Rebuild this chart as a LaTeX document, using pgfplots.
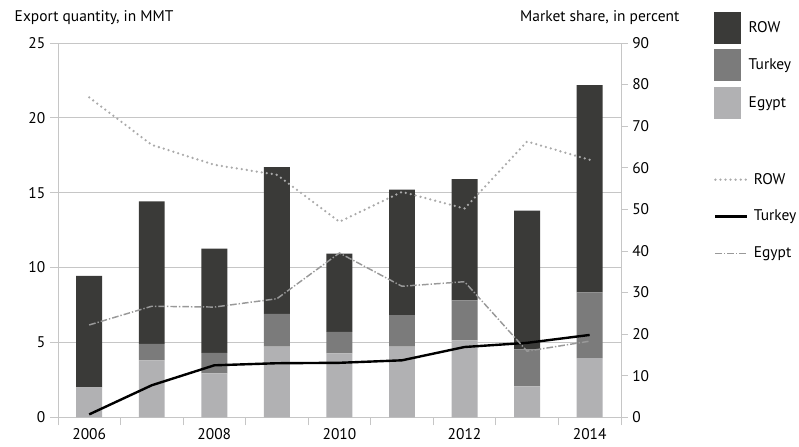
\documentclass[border=0pt]{standalone}
\usepackage{pgfplots}
\pgfplotsset{compat=1.18}
\usepackage{pgfplotstable}
\usepackage{fontspec}
\setmainfont{PT Sans}
\definecolor{rowc}{HTML}{3A3A38}
\definecolor{turc}{HTML}{7B7B7B}
\definecolor{egyc}{HTML}{B1B1B3}
\definecolor{axc}{HTML}{C6C6C6}
\definecolor{rowl}{HTML}{AAAAAA}
\definecolor{egyl}{HTML}{999999}

\pgfplotstableread{
x egypt turkey row
0 2.00 0.00 7.45
1 3.80 1.10 9.52
2 2.93 1.38 6.96
3 4.72 2.19 9.80
4 4.27 1.44 5.22
5 4.72 2.10 8.38
6 5.13 2.67 8.11
7 2.07 2.46 9.27
8 3.95 4.40 13.83
}\bars

\pgfplotstableread{
x row turkey egypt
0 76.9 0.7 22.2
1 65.5 7.7 26.7
2 60.7 12.5 26.5
3 58.3 13.0 28.5
4 47.0 13.1 39.5
5 54.2 13.7 31.5
6 50.2 16.9 32.6
7 66.3 17.9 15.9
8 61.9 19.8 18.3
}\shares

\newcommand{\myfont}{\fontsize{11.6}{13.5}\selectfont}

\begin{document}
\begin{tikzpicture}
\path (0,0) rectangle (599.25pt,335.25pt);
\begin{axis}[
  at={(43.5pt,21.75pt)}, anchor=south west,
  scale only axis, width=423pt, height=281.25pt,
  xmin=-0.5, xmax=8.5, ymin=0, ymax=25,
  axis x line*=bottom, axis y line*=left,
  axis line style={axc, line width=0.6pt},
  ytick={0,5,...,25},
  ymajorgrids, grid style={axc, line width=0.6pt},
  tick style={axc, line width=0.6pt},
  tick align=outside, major tick length=6pt,
  xtick={-0.5,0.5,...,8.5}, xticklabels={},
  extra x ticks={0,2,4,6,8},
  extra x tick labels={2006,2008,2010,2012,2014},
  extra x tick style={major tick length=0pt, grid=none, tick label style={yshift=-5pt}},
  tick label style={font=\myfont},
  /pgf/number format/assume math mode=true,
  every axis y label/.style={at={(axis description cs:-0.085,1.067)}, anchor=west, font=\myfont},
  ylabel={Export quantity, in MMT},
  ybar stacked, bar width=19.5pt,
  reverse legend,
  legend image code/.code={\fill[#1] (0pt,-12pt) rectangle (20pt,12pt);},
  legend style={at={(axis description cs:1.165,1.083)}, anchor=north west,
    draw=none, fill=none, inner sep=0pt, row sep=4pt, font=\myfont,
    /tikz/every odd column/.append style={column sep=4pt}},
  legend cell align=left,
]
\addplot[fill=egyc, draw=none] table[x=x, y=egypt] {\bars};
\addlegendentry{Egypt}
\addplot[fill=turc, draw=none] table[x=x, y=turkey] {\bars};
\addlegendentry{Turkey}
\addplot[fill=rowc, draw=none] table[x=x, y=row] {\bars};
\addlegendentry{ROW}
\end{axis}
\begin{axis}[
  at={(43.5pt,21.75pt)}, anchor=south west,
  scale only axis, width=423pt, height=281.25pt,
  xmin=-0.5, xmax=8.5, ymin=0, ymax=90,
  axis x line=none, axis y line*=right,
  axis line style={axc, line width=0.6pt},
  ytick={0,10,...,90},
  tick style={axc, line width=0.6pt},
  tick align=outside, major tick length=5pt,
  tick label style={font=\myfont},
  /pgf/number format/assume math mode=true,
  every axis y label/.style={at={(axis description cs:1.112,1.067)}, anchor=east, font=\myfont},
  ylabel={Market share, in percent},
  legend image code/.code={\draw[#1] (0pt,0pt) -- (24pt,0pt);},
  legend style={at={(axis description cs:1.165,0.66)}, anchor=north west,
    draw=none, fill=none, inner sep=0pt, row sep=14pt, font=\myfont,
    /tikz/every odd column/.append style={column sep=2pt}},
  legend cell align=left,
]
\addplot[rowl, line width=1.9pt, line cap=round, dash pattern=on 0pt off 3.8pt] table[x=x, y=row] {\shares};
\addlegendentry{ROW}
\addplot[black, line width=1.8pt] table[x=x, y=turkey] {\shares};
\addlegendentry{Turkey}
\addplot[egyl, line width=1.1pt, dash pattern=on 5pt off 1.5pt on 1pt off 1.5pt] table[x=x, y=egypt] {\shares};
\addlegendentry{Egypt}
\end{axis}
\end{tikzpicture}
\end{document}
